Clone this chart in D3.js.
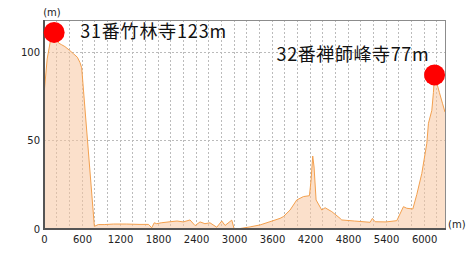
<!DOCTYPE html>
<html>
<head>
<meta charset="utf-8">
<script src="https://cdn.jsdelivr.net/npm/d3@7"></script>
<style>
  body { margin: 0; background: #fff; }
  svg { display: block; }
</style>
</head>
<body>
<div id="chart"></div>
<script>
// distance along the route (m) and elevation (m)
const distances = [0, 50, 100, 160, 230, 280, 330, 400, 463, 526, 568, 595, 795, 857, 950, 1100, 1300, 1500, 1650, 1700, 1740, 1780, 1850, 1990, 2100, 2200, 2305, 2385, 2463, 2540, 2620, 2727, 2806, 2858, 2964, 3000, 3100, 3253, 3411, 3600, 3726, 3779, 3884, 3990, 4095, 4190, 4216, 4242, 4263, 4295, 4385, 4437, 4543, 4674, 4700, 4900, 5148, 5184, 5227, 5400, 5569, 5674, 5727, 5822, 5885, 5964, 6043, 6069, 6122, 6147, 6165, 6242, 6290, 6330]
const elevations = [76, 96, 106, 111, 105, 104, 103, 101, 99, 97, 94, 91, 1.5, 2.5, 2.5, 2.8, 2.8, 2.6, 2.6, 0.7, 3.5, 3.0, 3.5, 4.1, 4.5, 4.0, 5.1, 1.9, 4.0, 3.0, 3.5, 1.0, 4.5, 2.0, 5.0, 0.3, 0.3, 1.2, 2.3, 4.5, 6, 7, 10.7, 16.4, 18.3, 18.8, 27.7, 41.2, 35, 16.4, 10.7, 12, 9.8, 6, 5.1, 4.5, 3.8, 6, 4.1, 4.0, 4.7, 12.6, 11.7, 11.3, 19.5, 31.4, 48.4, 59.7, 67, 77, 87, 77, 71, 66]

// temples on the route
const templeNames = ['31番竹林寺123m', '32番禅師峰寺77m']
const templeDistances = [160, 6165]
const templeElevations = [111, 87]

const xTicks = [0, 600, 1200, 1800, 2400, 3000, 3600, 4200, 4800, 5400, 6000]
const yTicks = [0, 50, 100]

const W = 473
const H = 256
const margin = { left: 44, right: 28, top: 20, bottom: 27 }

const profile = distances.map((d, i) => ({ d: d, v: elevations[i] }))

const svg = d3.select('#chart')
  .append('svg')
  .attr('width', W)
  .attr('height', H)

const x = d3.scaleLinear().domain([0, 6330]).range([margin.left, W - margin.right])
const y = d3.scaleLinear().domain([0, 118]).range([H - margin.bottom, margin.top])

const x0 = x.range()[0]
const x1 = x.range()[1]
const y0 = y.range()[0]
const y1 = y.range()[1]

/* grid */

svg.append('g')
  .selectAll('line')
  .data(d3.range(200, 6330, 200))
  .join('line')
  .attr('x1', d => x(d))
  .attr('x2', d => x(d))
  .attr('y1', y1)
  .attr('y2', y0)
  .style('stroke', '#bbb')
  .style('stroke-width', 1)
  .style('stroke-dasharray', '2,2')
  .attr('shape-rendering', 'crispEdges')

svg.append('g')
  .selectAll('line')
  .data(yTicks.filter(v => v > 0))
  .join('line')
  .attr('x1', x0)
  .attr('x2', x1)
  .attr('y1', d => Math.round(y(d)) + 0.5)
  .attr('y2', d => Math.round(y(d)) + 0.5)
  .style('stroke', '#bbb')
  .style('stroke-width', 1)
  .style('stroke-dasharray', '2,2')

/* elevation profile */

const area = d3.area()
  .x(p => x(p.d))
  .y0(y0)
  .y1(p => y(p.v))

const line = d3.line()
  .x(p => x(p.d))
  .y(p => y(p.v))

svg.append('path')
  .datum(profile)
  .attr('d', area)
  .style('fill', '#f7c7a0')
  .style('fill-opacity', 0.55)

svg.append('path')
  .datum(profile)
  .attr('d', line)
  .style('fill', 'none')
  .style('stroke', '#f3a04e')
  .style('stroke-width', 1)

/* frame */

svg.append('rect')
  .attr('x', x0 + 0.5)
  .attr('y', y1 + 0.5)
  .attr('width', x1 - x0)
  .attr('height', y0 - y1)
  .style('fill', 'none')
  .style('stroke', '#8c8c8c')
  .style('stroke-width', 1)

// left and bottom axes
svg.append('line')
  .attr('x1', x0)
  .attr('x2', x0)
  .attr('y1', y1)
  .attr('y2', y0 + 1)
  .style('stroke', '#555')
  .style('stroke-width', 2)

svg.append('line')
  .attr('x1', x0 - 1)
  .attr('x2', x1 + 1)
  .attr('y1', y0)
  .attr('y2', y0)
  .style('stroke', '#555')
  .style('stroke-width', 2)

const xAxis = d3.axisBottom(x).tickValues(xTicks).tickFormat(d3.format('d')).tickSize(0).tickPadding(7)
svg.append('g')
  .attr('transform', 'translate(0,' + y0 + ')')
  .call(xAxis)
  .call(g => g.select('.domain').remove())
  .selectAll('text')
  .style('font-family', 'DejaVu Sans, Verdana, sans-serif')
  .style('font-size', '10px')
  .style('fill', '#222')

const yAxis = d3.axisLeft(y).tickValues(yTicks).tickFormat(d3.format('d')).tickSize(0).tickPadding(4)
svg.append('g')
  .attr('transform', 'translate(' + x0 + ',0)')
  .call(yAxis)
  .call(g => g.select('.domain').remove())
  .selectAll('text')
  .style('font-family', 'DejaVu Sans, Verdana, sans-serif')
  .style('font-size', '10px')
  .style('fill', '#222')

// unit labels
svg.append('text')
  .attr('x', x0 + 8)
  .attr('y', 16)
  .attr('text-anchor', 'middle')
  .style('font-family', 'DejaVu Sans, Verdana, sans-serif')
  .style('font-size', '10px')
  .style('fill', '#222')
  .text('(m)')

svg.append('text')
  .attr('x', x1 + 3)
  .attr('y', y0 - 1)
  .style('font-family', 'DejaVu Sans, Verdana, sans-serif')
  .style('font-size', '10px')
  .style('fill', '#222')
  .text('(m)')

/* temple markers */

svg.append('g')
  .selectAll('circle')
  .data(templeDistances)
  .join('circle')
  .attr('cx', d => x(d))
  .attr('cy', (d, i) => y(templeElevations[i]))
  .attr('r', 10.5)
  .style('fill', '#ff0000')

svg.append('text')
  .attr('x', x(templeDistances[0]) + 26)
  .attr('y', y(templeElevations[0]) + 6)
  .attr('textLength', 146)
  .attr('lengthAdjust', 'spacing')
  .style('font-family', 'Noto Sans CJK JP, sans-serif')
  .style('font-size', '18px')
  .style('fill', '#111')
  .text(templeNames[0])

svg.append('text')
  .attr('x', x(templeDistances[1]) - 158)
  .attr('y', y(templeElevations[1]) - 14)
  .attr('textLength', 152)
  .attr('lengthAdjust', 'spacing')
  .style('font-family', 'Noto Sans CJK JP, sans-serif')
  .style('font-size', '18px')
  .style('fill', '#111')
  .text(templeNames[1])
</script>
</body>
</html>
